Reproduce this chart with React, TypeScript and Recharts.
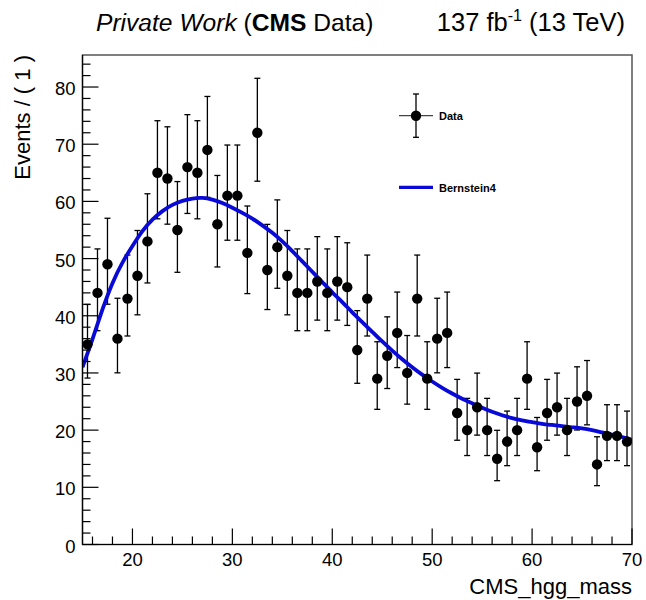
import { ComposedChart, ErrorBar, Line, ReferenceArea, Scatter, XAxis, YAxis } from "recharts";

// bin centres and event counts (1 GeV bins)
const binCenters = [
  15.5, 16.5, 17.5, 18.5, 19.5, 20.5, 21.5, 22.5, 23.5, 24.5, 25.5, 26.5, 27.5, 28.5,
  29.5, 30.5, 31.5, 32.5, 33.5, 34.5, 35.5, 36.5, 37.5, 38.5, 39.5, 40.5, 41.5, 42.5,
  43.5, 44.5, 45.5, 46.5, 47.5, 48.5, 49.5, 50.5, 51.5, 52.5, 53.5, 54.5, 55.5, 56.5,
  57.5, 58.5, 59.5, 60.5, 61.5, 62.5, 63.5, 64.5, 65.5, 66.5, 67.5, 68.5, 69.5,
];
const events = [
  35, 44, 49, 36, 43, 47, 53, 65, 64, 55, 66, 65, 69, 56,
  61, 61, 51, 72, 48, 52, 47, 44, 44, 46, 44, 46, 45, 34,
  43, 29, 33, 37, 30, 43, 29, 36, 37, 23, 20, 24, 20, 15,
  18, 20, 29, 17, 23, 24, 20, 25, 26, 14, 19, 19, 18,
];

// Bernstein4 fit
const fitX = [
  15, 16, 17, 18, 19, 20, 21, 22, 23, 24, 25, 26, 27, 28, 29, 30, 31, 32, 33,
  34, 35, 36, 37, 38, 39, 40, 41, 42, 43, 44, 45, 46, 47, 48, 49, 50, 51, 52,
  53, 54, 55, 56, 57, 58, 59, 60, 61, 62, 63, 64, 65, 66, 67, 68, 69, 70,
];
const fitY = [
  31, 35.9, 41.1, 45.7, 49.3, 52.2, 54.8, 56.8, 58.3, 59.4, 60.1, 60.5, 60.6, 60.3, 59.7, 58.9, 58.0, 57.0, 55.8,
  54.5, 53.0, 51.3, 49.5, 47.7, 45.9, 44.1, 42.4, 40.6, 38.9, 37.2, 35.5, 33.9, 32.4, 31.0, 29.7, 28.5, 27.4, 26.4,
  25.5, 24.7, 23.9, 23.2, 22.6, 22.1, 21.7, 21.4, 21.1, 20.9, 20.7, 20.5, 20.3, 20.0, 19.6, 19.2, 18.8, 18.3,
];

const xMajorTicks = [20, 30, 40, 50, 60, 70];
const yMajorTicks = [0, 10, 20, 30, 40, 50, 60, 70, 80];
const xTicks = Array.from({ length: 28 }, (_, i) => 16 + 2 * i);
const yTicks = Array.from({ length: 43 }, (_, i) => 2 * i);

const FONT = "'Liberation Sans', Arial, Helvetica, sans-serif";
const BLUE = "#0a0ad8";

// poisson (Garwood-like) asymmetric errors from the counts
const dataPoints = binCenters.map((x, i) => {
  const n = events[i];
  return { x, y: n, err: [Math.sqrt(n - 0.25), Math.sqrt(n + 0.75) + 1] };
});
const fitPoints = fitX.map((x, i) => ({ x, y: fitY[i] }));

function XTick(props: any) {
  const { x, y, payload } = props;
  const major = xMajorTicks.includes(payload.value);
  return (
    <g>
      <line x1={x} y1={y} x2={x} y2={y - (major ? 16 : 8)} stroke="#000" strokeWidth={1.2} />
      {major && (
        <text x={x} y={y + 21.5} textAnchor="middle" fontSize={18.5} fontFamily={FONT} fill="#000">
          {payload.value}
        </text>
      )}
    </g>
  );
}

function YTick(props: any) {
  const { x, y, payload } = props;
  const major = yMajorTicks.includes(payload.value);
  return (
    <g>
      <line x1={x} y1={y} x2={x + (major ? 16 : 8)} y2={y} stroke="#000" strokeWidth={1.2} />
      {major && (
        <text x={x - 7} y={y + 8} textAnchor="end" fontSize={18.5} fontFamily={FONT} fill="#000">
          {payload.value}
        </text>
      )}
    </g>
  );
}

const Dot = (props: any) => <circle cx={props.cx} cy={props.cy} r={5.2} fill="#000" />;

export default function App() {
  return (
    <div style={{ position: "absolute", left: 0, top: 0, width: 646, height: 600, background: "#fff" }}>
      <ComposedChart width={646} height={600} margin={{ top: 55, right: 14, bottom: 0, left: 0 }}>
        <ReferenceArea x1={15} x2={70} y1={0} y2={85.6} fill="none" stroke="#555" strokeWidth={1.5} />
        <XAxis
          type="number"
          dataKey="x"
          domain={[15, 70]}
          ticks={xTicks}
          interval={0}
          height={55.5}
          tickSize={0}
          tickMargin={0}
          tick={XTick}
          tickLine={false}
          axisLine={{ stroke: "#000", strokeWidth: 1.2 }}
          allowDataOverflow
        />
        <YAxis
          type="number"
          dataKey="y"
          domain={[0, 85.6]}
          ticks={yTicks}
          interval={0}
          width={82.5}
          tickSize={0}
          tickMargin={0}
          tick={YTick}
          tickLine={false}
          axisLine={{ stroke: "#000", strokeWidth: 1.2 }}
          allowDataOverflow
        />
        <Scatter data={dataPoints} dataKey="y" shape={Dot} isAnimationActive={false}>
          <ErrorBar dataKey="err" direction="y" width={3} stroke="#000" strokeWidth={1.3} isAnimationActive={false} />
        </Scatter>
        <Line
          data={fitPoints}
          dataKey="y"
          type="natural"
          stroke={BLUE}
          strokeWidth={3.8}
          dot={false}
          activeDot={false}
          isAnimationActive={false}
        />
      </ComposedChart>

      <svg
        width={646}
        height={600}
        style={{ position: "absolute", left: 0, top: 0, pointerEvents: "none" }}
        fontFamily={FONT}
      >
        <text x={96} y={31} fontSize={24.6} fill="#000">
          <tspan fontStyle="italic">Private Work</tspan>
          <tspan> (</tspan>
          <tspan fontWeight="bold">CMS</tspan>
          <tspan> Data)</tspan>
        </text>
        <text x={625} y={31} fontSize={25.5} fill="#000" textAnchor="end">
          <tspan>137 fb</tspan>
          <tspan fontSize={16} dy={-10}>-1</tspan>
          <tspan dy={10}> (13 TeV)</tspan>
        </text>

        <text x={30} y={55} fontSize={22} fill="#000" textAnchor="end" transform="rotate(-90 30 55)">
          Events / ( 1 )
        </text>
        <text x={632} y={594} fontSize={22} fill="#000" textAnchor="end">
          CMS_hgg_mass
        </text>

        {/* legend */}
        <line x1={399} y1={115.7} x2={433} y2={115.7} stroke="#444" strokeWidth={1.3} />
        <line x1={416} y1={94} x2={416} y2={137.3} stroke="#000" strokeWidth={1.3} />
        <line x1={413} y1={94} x2={419} y2={94} stroke="#000" strokeWidth={1.3} />
        <line x1={413} y1={137.3} x2={419} y2={137.3} stroke="#000" strokeWidth={1.3} />
        <circle cx={416} cy={115.7} r={5.2} fill="#000" />
        <text x={439} y={119.5} fontSize={11} fontWeight="bold" fill="#000">
          Data
        </text>
        <line x1={399} y1={187.3} x2={433} y2={187.3} stroke={BLUE} strokeWidth={3.2} />
        <text x={439} y={191.5} fontSize={11} fontWeight="bold" fill="#000">
          Bernstein4
        </text>
      </svg>
    </div>
  );
}
